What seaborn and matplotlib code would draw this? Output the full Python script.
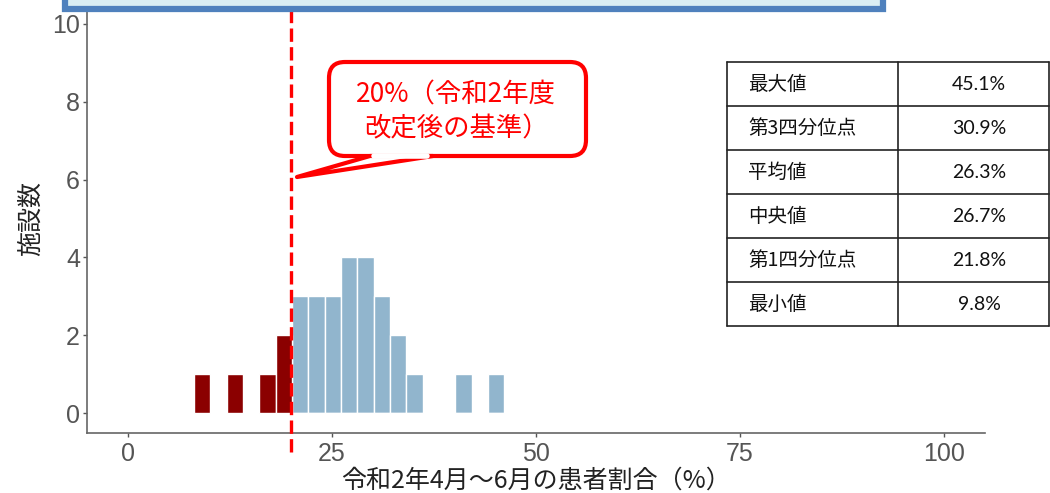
import numpy as np
import pandas as pd
import seaborn as sns
import matplotlib.pyplot as plt
from matplotlib.patches import FancyBboxPatch, Polygon, Rectangle
from matplotlib.lines import Line2D

# histogram bins (width 2)
bin_centers = [9.1, 13.1, 17.1, 19.1, 21.1, 23.1, 25.1, 27.1, 29.1, 31.1, 33.1, 35.1, 41.1, 45.1]
facility_counts = [1, 1, 1, 2, 3, 3, 3, 4, 4, 3, 2, 1, 1, 1]
threshold = 20

stat_labels = ["最大値", "第3四分位点", "平均値", "中央値", "第1四分位点", "最小値"]
stat_values = ["45.1%", "30.9%", "26.3%", "26.7%", "21.8%", "9.8%"]

x_ticks = [0, 25, 50, 75, 100]
y_ticks = [0, 2, 4, 6, 8, 10]

callout_text = "20%（令和2年度\n改定後の基準）"
x_label = "令和2年4月～6月の患者割合（%）"
y_label = "施設数"

df = pd.DataFrame({"rate": bin_centers, "n": facility_counts})
df["group"] = np.where(df["rate"] < threshold, "below", "above")

sns.set_style("ticks")
plt.rcParams["font.family"] = ["Liberation Sans", "Noto Sans CJK JP"]

fig = plt.figure(figsize=(10.5, 4.93), dpi=100)
ax = fig.add_axes([0.0829, 0.1227, 0.8552, 0.8682])

sns.histplot(data=df, x="rate", weights="n", hue="group", binwidth=2,
             binrange=(8.1, 46.1), palette={"below": "#8B0000", "above": "#91B5CD"},
             alpha=1, edgecolor="white", linewidth=1, legend=False, ax=ax)

ax.set_xlim(-5, 105)
ax.set_ylim(-0.5, 10.5)
ax.set_xticks(x_ticks)
ax.set_yticks(y_ticks)
ax.tick_params(labelsize=18, colors="#555555", length=3, width=1)
ax.tick_params(axis="x", pad=4)
ax.tick_params(axis="y", pad=2)
for s in ["top", "right"]:
    ax.spines[s].set_visible(False)
for s in ["left", "bottom"]:
    ax.spines[s].set_color("#666666")
    ax.spines[s].set_linewidth(1.2)
ax.set_xlabel(x_label, fontsize=18, color="#222222", labelpad=1,
              family=["Noto Sans CJK JP"])
ax.set_ylabel(y_label, fontsize=18, color="#222222", labelpad=6,
              family=["Noto Sans CJK JP"])

# threshold line (dashed red)
ax.plot([threshold, threshold], [-1.0, 11], color="#FF0000", lw=2.4,
        ls=(0, (4, 1.6)), clip_on=False, zorder=5)

inch = fig.dpi_scale_trans

# blue title box cut off at the top
fig.add_artist(Rectangle((0.65, 4.84), 8.18, 0.5, transform=inch,
                         facecolor="#DAEEF3", edgecolor="#4F81BD", lw=4.5))

# speech-bubble callout
fig.add_artist(FancyBboxPatch((3.29, 3.37), 2.57, 0.94, transform=inch,
                              boxstyle="round,pad=0,rounding_size=0.16",
                              facecolor="white", edgecolor="#FF0000", lw=3, zorder=6))
fig.add_artist(Polygon([(3.70, 3.37), (2.97, 3.16), (4.33, 3.37)], closed=True,
                       transform=inch, facecolor="white", edgecolor="#FF0000",
                       lw=3, joinstyle="round", zorder=7))
fig.add_artist(Line2D([3.74, 4.27], [3.37, 3.37], transform=inch,
                      color="white", lw=4, zorder=8))
fig.text(4.56, 3.81, callout_text, transform=inch, ha="center", va="center",
         fontsize=19, color="#FF0000", linespacing=1.35,
         family=["Noto Sans CJK JP"], zorder=9)

# summary table
tab = fig.add_axes([727 / 1050, 167 / 493, 322 / 1050, 264 / 493])
tab.set_xlim(0, 1)
tab.set_ylim(len(stat_labels), 0)
tab.axis("off")
split = 0.531
for i in range(len(stat_labels) + 1):
    tab.plot([0, 1], [i, i], color="#222222", lw=1.2, clip_on=False)
for xv in [0, split, 1]:
    tab.plot([xv, xv], [0, len(stat_labels)], color="#222222", lw=1.2, clip_on=False)
for i, (lab, val) in enumerate(zip(stat_labels, stat_values)):
    tab.text(0.065, i + 0.5, lab, ha="left", va="center", fontsize=14,
             family=["Noto Sans CJK JP"], color="#111111")
    tab.text(0.783, i + 0.5, val, ha="center", va="center", fontsize=14,
             family=["Lato", "Noto Sans CJK JP"], color="#111111")

fig.savefig("out.png", dpi=100)
